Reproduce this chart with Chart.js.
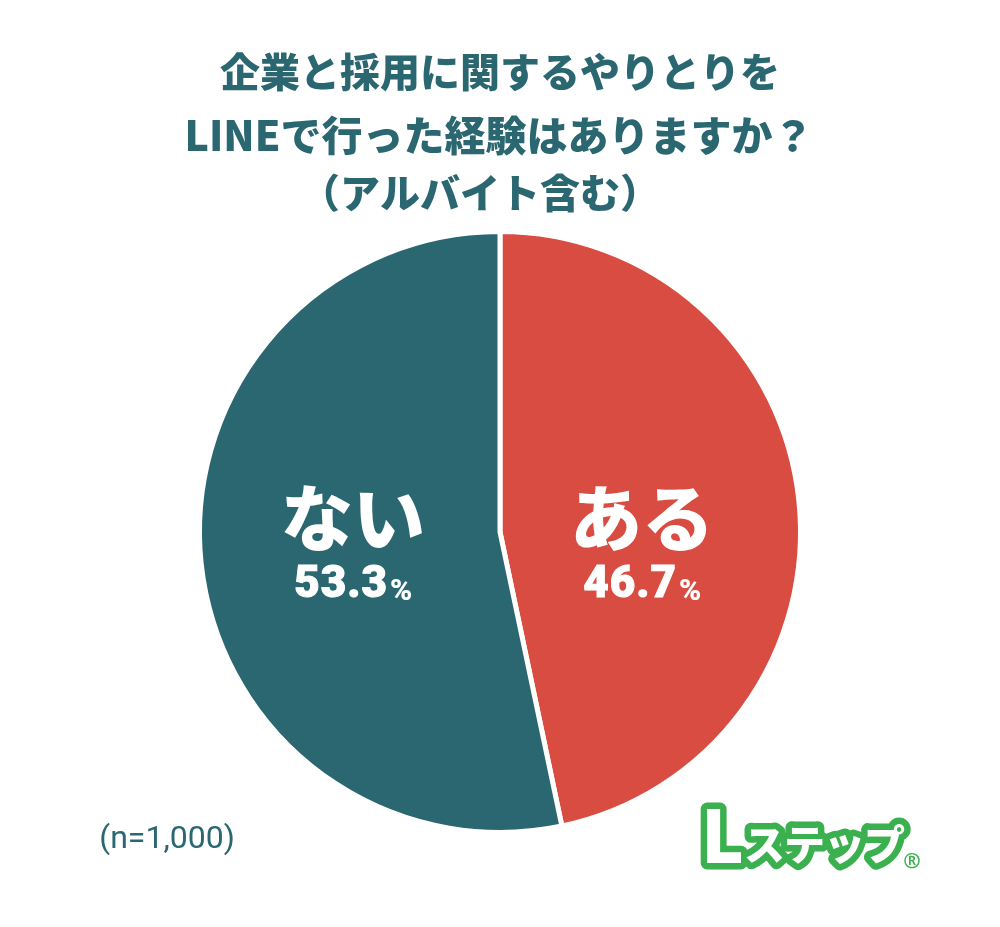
<!DOCTYPE html>
<html>
<head>
<meta charset="utf-8">
<style>
  html, body { margin: 0; padding: 0; background: #fff; }
  #wrap { position: relative; width: 1000px; height: 927px; }
</style>
<script src="https://cdn.jsdelivr.net/npm/chart.js@4"></script>
</head>
<body>
<div id="wrap"><canvas id="myChart" width="1000" height="927"></canvas></div>
<script>
const categories = ["ある", "ない"];
const valores = [46.7, 53.3];
const etiquetas = ["46.7", "53.3"];
const colores = ["#d84c41", "#2a6771"];
const tituloLineas = [
  ["企業と採用に関するやりとりを", 500, 72, 40],
  ["LINEで行った経験はありますか？", 499, 135, 41],
  ["（アルバイト含む）", 480, 193, 40]
];

const JP = '"Noto Sans CJK JP", sans-serif';
const verde = "#3bb04f";

// title, centre labels, note and logo text
const textos = {
  id: "textos",
  afterDraw(chart) {
    const ctx = chart.ctx;
    ctx.save();
    ctx.textAlign = "center";
    ctx.textBaseline = "middle";

    ctx.fillStyle = "#2a6771";
    tituloLineas.forEach(l => {
      ctx.font = `900 ${l[3]}px ${JP}`;
      ctx.fillText(l[0], l[1], l[2]);
    });

    categories.forEach((cat, i) => {
      const x = i === 0 ? 642 : 353;
      ctx.fillStyle = "#fff";
      ctx.strokeStyle = "#fff";
      ctx.font = `900 72px ${JP}`;
      ctx.fillText(cat, x, 518);
      ctx.textAlign = "right";
      ctx.letterSpacing = "1px";
      ctx.font = `900 44px Roboto, sans-serif`;
      ctx.lineWidth = 1;
      ctx.fillText(etiquetas[i], x + 35, 586);
      ctx.strokeText(etiquetas[i], x + 35, 586);
      ctx.letterSpacing = "0px";
      ctx.textAlign = "left";
      ctx.font = `900 30px Roboto, sans-serif`;
      ctx.fillText("%", x + 37, 592);
      ctx.textAlign = "center";
    });

    ctx.fillStyle = "#2a6771";
    ctx.font = `400 32px Roboto, sans-serif`;
    ctx.fillText("(n=1,000)", 167, 840);

    // logo
    ctx.lineJoin = "round";
    ctx.textAlign = "left";
    ctx.textBaseline = "alphabetic";
    ctx.strokeStyle = verde;
    ctx.fillStyle = "#fff";
    ctx.lineWidth = 13;
    ctx.font = `900 72px ${JP}`;
    ctx.strokeText("L", 701, 863);
    ctx.font = `900 41px ${JP}`;
    ctx.letterSpacing = "-1px";
    ctx.strokeText("ステップ", 744, 860);
    ctx.font = `900 72px ${JP}`;
    ctx.letterSpacing = "0px";
    ctx.fillText("L", 701, 863);
    ctx.font = `900 41px ${JP}`;
    ctx.letterSpacing = "-1px";
    ctx.fillText("ステップ", 744, 860);
    ctx.letterSpacing = "0px";
    ctx.fillStyle = verde;
    ctx.textAlign = "center";
    ctx.textBaseline = "middle";
    ctx.font = `700 21px "Noto Sans", sans-serif`;
    ctx.fillText("®", 912, 862);
    ctx.restore();
  }
};

new Chart(document.getElementById("myChart"), {
  type: "pie",
  data: {
    labels: categories,
    datasets: [{
      data: valores,
      backgroundColor: colores,
      borderColor: "#fff",
      borderWidth: 5,
      borderAlign: "center"
    }]
  },
  options: {
    responsive: false,
    animation: false,
    layout: { padding: { top: 229, left: 197, right: 197, bottom: 92 } },
    plugins: { legend: { display: false }, tooltip: { enabled: false } }
  },
  plugins: [textos]
});
</script>
</body>
</html>
